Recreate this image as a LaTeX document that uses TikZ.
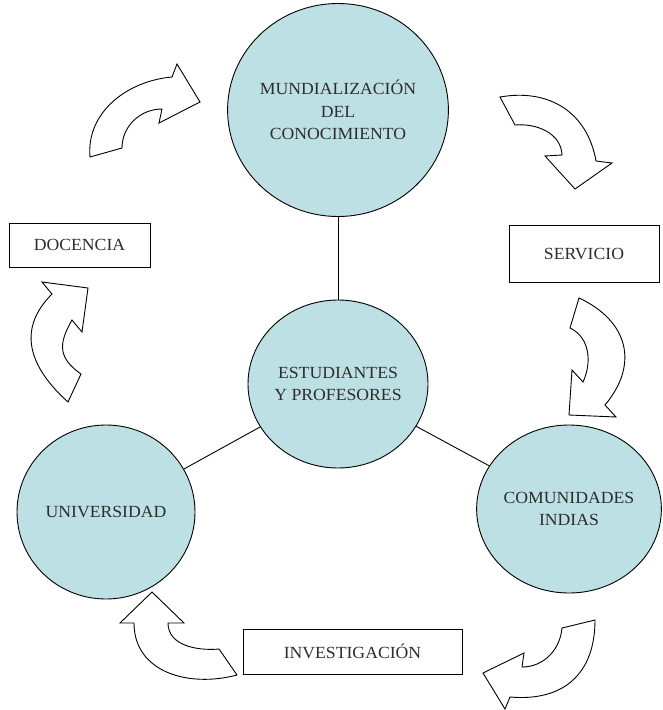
\documentclass[tikz,border=0pt]{standalone}
\usepackage{fontspec}
\setmainfont[FakeStretch=1.04]{Liberation Serif}
\usetikzlibrary{shapes.geometric}
\definecolor{circfill}{RGB}{189,224,228}
\definecolor{txt}{RGB}{45,45,45}
\begin{document}
\begin{tikzpicture}[x=1pt,y=1pt,
  bubble/.style={ellipse, draw, fill=circfill, inner sep=0pt, line width=0.9pt, align=center, text=txt, font=\fontsize{17}{22.5}\selectfont},
  labelbox/.style={rectangle, draw, fill=white, inner sep=0pt, line width=0.9pt, text=txt, font=\fontsize{17}{20}\selectfont},
  curvedarrow/.style={draw, fill=white, line width=0.9pt, line join=miter},
  link/.style={line width=0.9pt}]
\useasboundingbox (0,0) rectangle (662,-710);

% circles
\node[bubble, minimum width=220pt, minimum height=213pt] (mund) at (338,-110) {MUNDIALIZACIÓN\\DEL\\CONOCIMIENTO};
\node[bubble, minimum width=180pt, minimum height=168pt] (est) at (338,-384) {ESTUDIANTES\\Y PROFESORES};
\node[bubble, minimum width=178pt, minimum height=174pt] (univ) at (106,-512) {UNIVERSIDAD};
\node[bubble, minimum width=178pt, minimum height=168pt] (com) at (569,-509) {COMUNIDADES\\INDIAS};

% connectors
\draw[link] (mund) -- (est);
\draw[link] (est) -- (univ);
\draw[link] (est) -- (com);

% boxes
\node[labelbox, minimum width=141pt, minimum height=44pt] (doc) at (79.5,-245) {DOCENCIA};
\node[labelbox, minimum width=150pt, minimum height=57pt] (serv) at (584,-253.5) {SERVICIO};
\node[labelbox, minimum width=219pt, minimum height=45pt] (inv) at (352.5,-651.5) {INVESTIGACIÓN};

% curved block arrows
\draw[curvedarrow] (90,-157) -- (122,-148) to[out=90,in=180] (162,-109) -- (159,-123) -- (200,-102) -- (177,-64) -- (172,-77) to[out=185,in=95] (90,-157) -- cycle;
\draw[curvedarrow] (500,-97) -- (515,-125) to[out=5,in=92] (562,-155) -- (545,-156) -- (575,-189) -- (612,-163) -- (596,-161) to[out=100,in=10,looseness=1.1] (500,-97) -- cycle;
\draw[curvedarrow] (579,-298) -- (570,-328) to[out=-25,in=65] (583,-382) -- (572,-370) -- (569,-415) -- (616,-417) -- (605,-405) to[out=50,in=-25,looseness=1.25] (579,-298) -- cycle;
\draw[curvedarrow] (595,-620) -- (562,-628) to[out=-95,in=0] (522,-667) -- (524,-653) -- (483,-673) -- (505,-709) -- (510,-697) to[out=-5,in=-90,looseness=1.2] (595,-620) -- cycle;
\draw[curvedarrow] (237,-675) -- (219,-649) to[out=185,in=-90] (168,-623) -- (184,-623) -- (152,-592) -- (120,-623) -- (134,-623) to[out=-90,in=195,looseness=1.1] (237,-675) -- cycle;
\draw[curvedarrow] (68,-402) -- (81,-374) to[out=145,in=240,looseness=1.3] (72,-320) -- (82,-332) -- (88,-288) -- (42,-282) -- (52,-294) to[out=225,in=138,looseness=1.2] (68,-402) -- cycle;
\end{tikzpicture}
\end{document}
